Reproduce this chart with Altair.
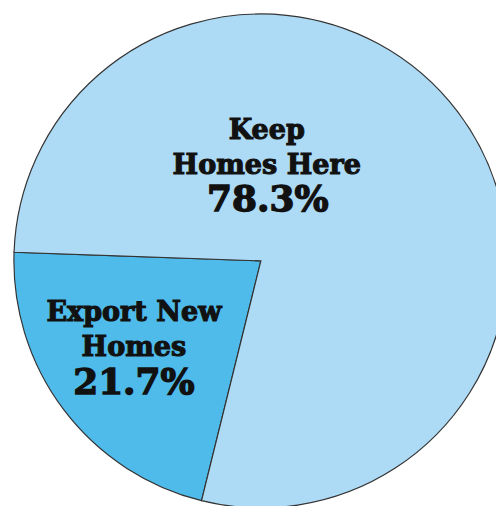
import math
import altair as alt
import pandas as pd

categories = ["Export New Homes", "Keep Homes Here"]
shares = [21.7, 78.3]
colors = ["#4FBBEA", "#ADDAF4"]
name_labels = ["Export New\nHomes", "Keep\nHomes Here"]
pct_labels = ["21.7%", "78.3%"]

df = pd.DataFrame({
    "category": categories,
    "share": shares,
    "order": [0, 1],
})

start = math.radians(193.9)
CX, CY, R = 257, 253, 251

pie = alt.Chart(df).mark_arc(stroke="#333333", strokeWidth=1.2, radius=R).encode(
    theta=alt.Theta("share:Q", stack=True,
                    scale=alt.Scale(range=[start, start + 2 * math.pi])),
    order=alt.Order("order:Q"),
    color=alt.Color("category:N", scale=alt.Scale(domain=categories, range=colors), legend=None),
    x=alt.value(CX),
    y=alt.value(CY),
)

label_pos = pd.DataFrame({
    "name": name_labels,
    "pct": pct_labels,
    "nx": [128, 263],
    "ny": [314, 129],
    "px": [128, 264],
    "py": [388, 202],
})

names = alt.Chart(label_pos).mark_text(
    font="DejaVu Serif", fontWeight="bold", fontSize=27.5, color="#111111",
    stroke="#111111", strokeWidth=1.1,
    baseline="alphabetic", align="center", lineBreak="\n", lineHeight=36,
).encode(
    text="name:N",
    x=alt.X("nx:Q", scale=None),
    y=alt.Y("ny:Q", scale=None),
)

pcts = alt.Chart(label_pos).mark_text(
    font="DejaVu Serif", fontWeight="bold", fontSize=36.5, color="#111111",
    stroke="#111111", strokeWidth=1.4,
    baseline="alphabetic", align="center",
).encode(
    text="pct:N",
    x=alt.X("px:Q", scale=None),
    y=alt.Y("py:Q", scale=None),
)

chart = alt.layer(pie, names, pcts).properties(
    width=496, height=498, padding=0,
    autosize=alt.AutoSizeParams(type="none"),
).configure_view(stroke=None).configure_axis(disable=True)

chart.save("out.html", embed_options={"renderer": "svg", "actions": False})
